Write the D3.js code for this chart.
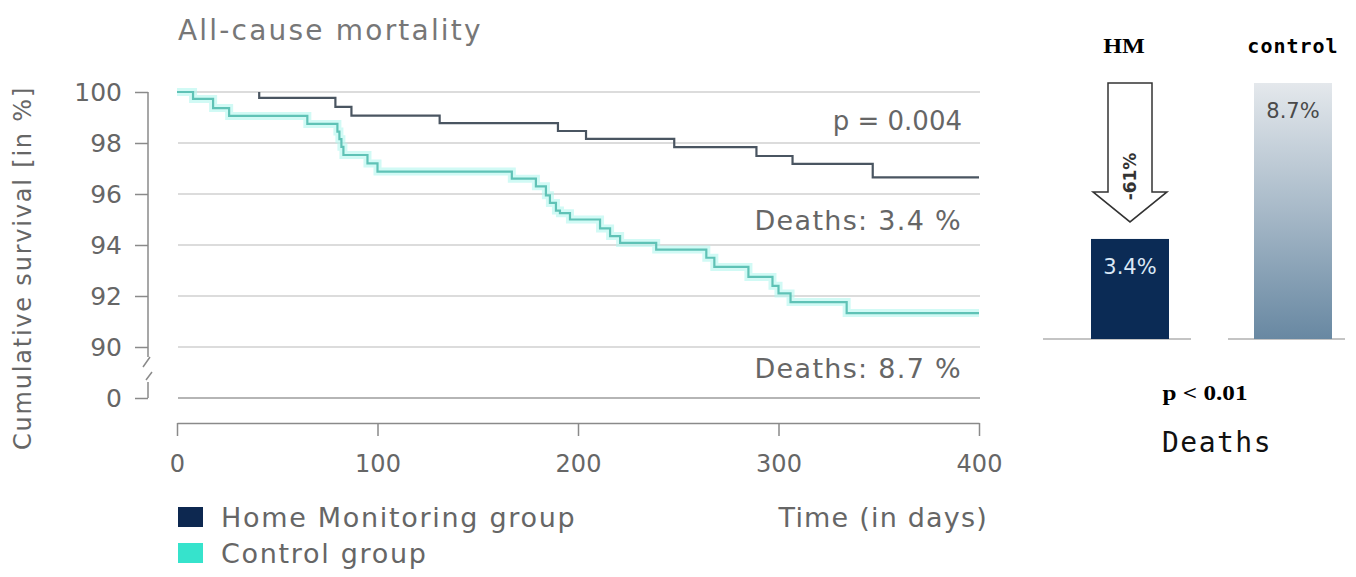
<!DOCTYPE html>
<html>
<head>
<meta charset="utf-8">
<script src="https://cdn.jsdelivr.net/npm/d3@7"></script>
<style>
  html, body { margin: 0; padding: 0; background: #fff; }
  svg { display: block; }
</style>
</head>
<body>
<svg width="1356" height="577"></svg>
<script>
// Kaplan-Meier curves, values (days, survival in %)
const hmDays = [41, 41, 79, 87, 131, 190, 204, 248, 289, 307, 347, 400];
const hmSurv = [100, 99.77, 99.42, 99.07, 98.78, 98.47, 98.16, 97.84, 97.49, 97.18, 96.65, 96.65];

const ctrlDays = [0, 8, 18, 26, 65, 80, 81, 82, 83, 95, 100, 167, 179, 184, 186, 189, 191, 196, 211, 216, 221, 239, 264, 268, 285, 297, 300, 306, 334, 400];
const ctrlSurv = [100, 99.73, 99.37, 99.06, 98.75, 98.45, 98.15, 97.85, 97.53, 97.2, 96.88, 96.6, 96.3, 95.95, 95.65, 95.35, 95.25, 95.0, 94.65, 94.35, 94.08, 93.82, 93.5, 93.14, 92.75, 92.4, 92.1, 91.76, 91.33, 91.33];

const yTicks = [0, 90, 92, 94, 96, 98, 100];
const xTicks = [0, 100, 200, 300, 400];

const legendNames = ["Home Monitoring group", "Control group"];
const legendColors = ["#0d2850", "#36e3cc"];

// right panel: deaths per group
const groups = ["HM", "control"];
const deathRates = [3.4, 8.7];
const barLabels = ["3.4%", "8.7%"];
const reductionLabel = "-61%";

const svg = d3.select("svg");
const sans = "'DejaVu Sans', sans-serif";
const textGray = "#666";

const x = d3.scaleLinear().domain([0, 400]).range([177, 979]);
// broken axis: 0 sits just under 90
const y = d3.scaleLinear().domain([0, 90, 100]).range([398, 347, 92]);

// gridlines
svg.append("g").selectAll("line").data(yTicks).join("line")
    .attr("x1", 178).attr("x2", 980)
    .attr("y1", d => y(d)).attr("y2", d => y(d))
    .attr("stroke", d => d === 0 ? "#b5b5b5" : "#dcdcdc")
    .attr("stroke-width", 2);

// y axis
const yAxis = svg.append("g").attr("transform", "translate(148,0)")
    .call(d3.axisLeft(y).tickValues(yTicks).tickSize(13).tickPadding(13));
yAxis.select(".domain").remove();
yAxis.selectAll(".tick line").attr("stroke", "#8a8a8a").attr("stroke-width", 1.5);
yAxis.selectAll(".tick text")
    .attr("font-family", sans).attr("font-size", 25).attr("fill", textGray);
yAxis.append("path")
    .attr("d", `M0,${y(100)}V${y(90) + 10}M2,${y(90) + 10}L-5,${y(90) + 20}` +
               `M4,${y(0) - 26}L-2,${y(0) - 18}M0,${y(0) - 16}V${y(0)}`)
    .attr("fill", "none").attr("stroke", "#8a8a8a").attr("stroke-width", 1.5);

// x axis
const xAxis = svg.append("g").attr("transform", "translate(0,423)")
    .call(d3.axisBottom(x).tickValues(xTicks).tickSize(13).tickPadding(19).tickSizeOuter(0));
xAxis.select(".domain").attr("stroke", "#8a8a8a").attr("stroke-width", 1.5);
xAxis.selectAll(".tick line").attr("stroke", "#8a8a8a").attr("stroke-width", 1.5);
xAxis.selectAll(".tick text")
    .attr("font-family", sans).attr("font-size", 24).attr("fill", textGray);

// curves
const line = d3.line()
    .x(d => x(d[0]))
    .y(d => y(d[1]))
    .curve(d3.curveStepAfter);

const ctrlData = d3.zip(ctrlDays, ctrlSurv);
const hmData = d3.zip(hmDays, hmSurv);

svg.append("path").attr("d", line(ctrlData))
    .attr("fill", "none").attr("stroke", "#b3f6ee").attr("stroke-width", 8)
    .attr("stroke-opacity", 0.6);
svg.append("path").attr("d", line(ctrlData))
    .attr("fill", "none").attr("stroke", "#5fc2b6").attr("stroke-width", 2.2);
svg.append("path").attr("d", line(hmData))
    .attr("fill", "none").attr("stroke", "#4a5561").attr("stroke-width", 2.2);

// texts
const txt = (s, xx, yy, size, anchor, ls) => svg.append("text")
    .attr("x", xx).attr("y", yy)
    .attr("font-family", sans).attr("font-size", size)
    .attr("fill", textGray).attr("text-anchor", anchor || "start")
    .attr("letter-spacing", ls || 0)
    .text(s);

txt("All-cause mortality", 178, 40, 28, "start", 2.2).attr("fill", "#777");
txt("p = 0.004", 962, 130, 26, "end");
txt("Deaths: 3.4 %", 962, 230, 27, "end", 1.3);
txt("Deaths: 8.7 %", 962, 378, 27, "end", 1.3);
txt("Time (in days)", 988, 527, 27, "end", 1.2);

svg.append("text")
    .attr("transform", "translate(31,268) rotate(-90)")
    .attr("font-family", sans).attr("font-size", 24).attr("letter-spacing", 1.8)
    .attr("fill", textGray).attr("text-anchor", "middle")
    .text("Cumulative survival [in %]");

// legend
const legend = svg.append("g").selectAll("g").data(legendNames).join("g")
    .attr("transform", (d, i) => `translate(178,${507 + i * 36})`);
legend.append("rect").attr("width", 25).attr("height", 20)
    .attr("fill", (d, i) => legendColors[i]);
legend.append("text").attr("x", 43).attr("y", 20)
    .attr("font-family", sans).attr("font-size", 27).attr("letter-spacing", 1.7)
    .attr("fill", textGray).text(d => d);

// ---- right panel ----
const defs = svg.append("defs");
const grad = defs.append("linearGradient").attr("id", "ctrlGrad")
    .attr("x1", 0).attr("y1", 0).attr("x2", 0).attr("y2", 1);
grad.append("stop").attr("offset", "0%").attr("stop-color", "#e4e8ec");
grad.append("stop").attr("offset", "50%").attr("stop-color", "#a7b9c8");
grad.append("stop").attr("offset", "100%").attr("stop-color", "#6888a2");

const xBar = d3.scalePoint().domain(groups).range([1130, 1293]);
const yBar = d3.scaleLinear().domain([0, 8.7]).range([339, 83]);
const barW = 78;
const baseSpan = [[-87, 61], [-65, 52]];

svg.append("g").selectAll("line").data(groups).join("line")
    .attr("x1", (d, i) => xBar(d) + baseSpan[i][0])
    .attr("x2", (d, i) => xBar(d) + baseSpan[i][1])
    .attr("y1", yBar(0)).attr("y2", yBar(0))
    .attr("stroke", "#b0b0b0").attr("stroke-width", 1.5);

svg.append("g").selectAll("rect").data(groups).join("rect")
    .attr("x", d => xBar(d) - barW / 2)
    .attr("width", barW)
    .attr("y", (d, i) => yBar(deathRates[i]))
    .attr("height", (d, i) => yBar(0) - yBar(deathRates[i]))
    .attr("fill", (d, i) => i === 0 ? "#0b2b55" : "url(#ctrlGrad)");

svg.append("g").selectAll("text").data(groups).join("text")
    .attr("x", d => xBar(d))
    .attr("y", (d, i) => yBar(deathRates[i]) + 35)
    .attr("text-anchor", "middle")
    .attr("font-family", sans).attr("font-size", 21)
    .attr("fill", (d, i) => i === 0 ? "#dbe8f5" : "#4a4a4a")
    .text((d, i) => barLabels[i]);

// reduction arrow from control level down to HM bar
const ax = xBar("HM");
const aTop = yBar(deathRates[1]);
const aTip = yBar(deathRates[0]) - 17;
const aHead = aTip - 30;
svg.append("path")
    .attr("d", `M${ax - 22},${aTop}H${ax + 22}V${aHead}H${ax + 37}L${ax},${aTip}` +
               `L${ax - 37},${aHead}H${ax - 22}Z`)
    .attr("fill", "#fff").attr("stroke", "#333").attr("stroke-width", 1.5);
svg.append("text")
    .attr("transform", `translate(${ax},${(aTop + aTip) / 2 + 24}) rotate(-90)`)
    .attr("text-anchor", "middle").attr("dominant-baseline", "central")
    .attr("font-family", sans).attr("font-weight", "bold").attr("font-size", 17)
    .attr("fill", "#333").text(reductionLabel);

// headings and notes
svg.append("text")
    .attr("transform", `translate(${xBar("HM") - 6},53) scale(1.15,1)`)
    .attr("text-anchor", "middle")
    .attr("font-family", "'Liberation Serif', serif").attr("font-weight", "bold")
    .attr("font-size", 21).attr("fill", "#000").text(groups[0]);
svg.append("text")
    .attr("x", xBar("control")).attr("y", 53)
    .attr("text-anchor", "middle")
    .attr("font-family", "'DejaVu Sans Mono', monospace").attr("font-weight", "bold")
    .attr("font-size", 20).attr("letter-spacing", 1).attr("fill", "#000").text(groups[1]);
svg.append("text")
    .attr("transform", "translate(1205,400) scale(1.2,1)")
    .attr("text-anchor", "middle")
    .attr("font-family", "'Liberation Serif', serif").attr("font-weight", "bold")
    .attr("font-size", 21).attr("fill", "#000").text("p < 0.01");
svg.append("text")
    .attr("x", 1217).attr("y", 452)
    .attr("text-anchor", "middle")
    .attr("font-family", "'DejaVu Sans Mono', monospace")
    .attr("font-size", 28).attr("letter-spacing", 1.5).attr("fill", "#111").text("Deaths");
</script>
</body>
</html>
